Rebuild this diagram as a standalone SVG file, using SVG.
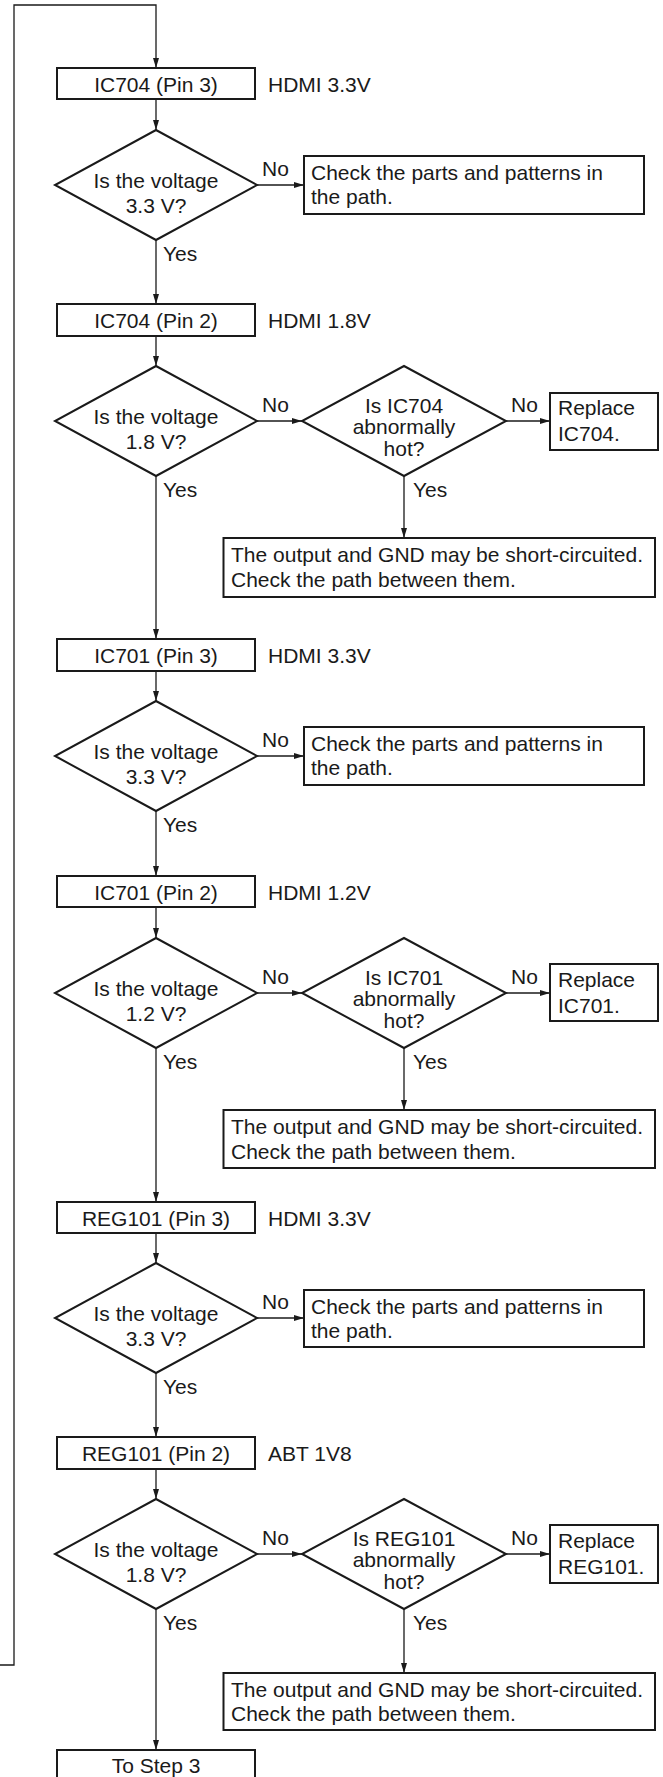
<svg xmlns="http://www.w3.org/2000/svg" width="663" height="1777" viewBox="0 0 663 1777">
  <defs>
    <marker id="arrow" markerUnits="userSpaceOnUse" markerWidth="10" markerHeight="6" refX="10" refY="3" orient="auto">
      <path d="M0,0 L10,3 L0,6 z" fill="#1a1a1a"/>
    </marker>
    <style>
      text { font-family: "Liberation Sans", Arial, Helvetica, sans-serif; font-size: 21px; fill: #1a1a1a; }
      .c { text-anchor: middle; }
      .box { fill: #fff; stroke: #1a1a1a; stroke-width: 2; }
      .dia { fill: #fff; stroke: #1a1a1a; stroke-width: 2; }
      .ln { fill: none; stroke: #1a1a1a; stroke-width: 1.3; }
      .arr { fill: none; stroke: #1a1a1a; stroke-width: 1.3; marker-end: url(#arrow); }
    </style>
  </defs>
  <rect width="663" height="1777" fill="#fff"/>

  <!-- connectors -->
  <g id="connectors">
    <polyline class="arr" points="0,1665 14,1665 14,5 156,5 156,68"/>
    <!-- IC704 pin 3 -->
    <line class="arr" x1="156" y1="99" x2="156" y2="130"/>
    <line class="arr" x1="257" y1="185" x2="304" y2="185"/>
    <line class="arr" x1="156" y1="240" x2="156" y2="304"/>
    <!-- IC704 pin 2 -->
    <line class="arr" x1="156" y1="336" x2="156" y2="366"/>
    <line class="arr" x1="257" y1="421" x2="302" y2="421"/>
    <line class="arr" x1="506" y1="421" x2="550" y2="421"/>
    <line class="arr" x1="404" y1="476" x2="404" y2="538"/>
    <line class="arr" x1="156" y1="476" x2="156" y2="639"/>
    <!-- IC701 pin 3 -->
    <line class="arr" x1="156" y1="671" x2="156" y2="701"/>
    <line class="arr" x1="257" y1="756" x2="304" y2="756"/>
    <line class="arr" x1="156" y1="811" x2="156" y2="876"/>
    <!-- IC701 pin 2 -->
    <line class="arr" x1="156" y1="907" x2="156" y2="938"/>
    <line class="arr" x1="257" y1="993" x2="302" y2="993"/>
    <line class="arr" x1="506" y1="993" x2="550" y2="993"/>
    <line class="arr" x1="404" y1="1048" x2="404" y2="1110"/>
    <line class="arr" x1="156" y1="1048" x2="156" y2="1202"/>
    <!-- REG101 pin 3 -->
    <line class="arr" x1="156" y1="1233" x2="156" y2="1263"/>
    <line class="arr" x1="257" y1="1318" x2="304" y2="1318"/>
    <line class="arr" x1="156" y1="1373" x2="156" y2="1437"/>
    <!-- REG101 pin 2 -->
    <line class="arr" x1="156" y1="1469" x2="156" y2="1499"/>
    <line class="arr" x1="257" y1="1554" x2="302" y2="1554"/>
    <line class="arr" x1="506" y1="1554" x2="550" y2="1554"/>
    <line class="arr" x1="404" y1="1609" x2="404" y2="1673"/>
    <line class="arr" x1="156" y1="1609" x2="156" y2="1750"/>
  </g>

  <!-- branch labels -->
  <g id="labels">
    <text x="262" y="176">No</text>
    <text x="163" y="261">Yes</text>
    <text x="262" y="412">No</text>
    <text x="511" y="412">No</text>
    <text x="163" y="497">Yes</text>
    <text x="413" y="497">Yes</text>
    <text x="262" y="747">No</text>
    <text x="163" y="832">Yes</text>
    <text x="262" y="984">No</text>
    <text x="511" y="984">No</text>
    <text x="163" y="1069">Yes</text>
    <text x="413" y="1069">Yes</text>
    <text x="262" y="1309">No</text>
    <text x="163" y="1394">Yes</text>
    <text x="262" y="1545">No</text>
    <text x="511" y="1545">No</text>
    <text x="163" y="1630">Yes</text>
    <text x="413" y="1630">Yes</text>
  </g>

  <!-- IC704 pin 3 stage -->
  <g id="ic704-pin3">
    <rect class="box" x="57" y="68" width="198" height="31"/>
    <text class="c" x="156" y="92">IC704 (Pin 3)</text>
    <text x="268" y="92">HDMI 3.3V</text>
  </g>
  <g id="q-ic704-3v3">
    <polygon class="dia" points="156,130 257,185 156,240 55,185"/>
    <text class="c" x="156" y="188">Is the voltage</text>
    <text class="c" x="156" y="213">3.3 V?</text>
  </g>
  <g id="check-ic704-3v3">
    <rect class="box" x="304" y="156" width="340" height="58"/>
    <text x="311" y="180">Check the parts and patterns in</text>
    <text x="311" y="204">the path.</text>
  </g>

  <!-- IC704 pin 2 stage -->
  <g id="ic704-pin2">
    <rect class="box" x="57" y="304" width="198" height="32"/>
    <text class="c" x="156" y="328">IC704 (Pin 2)</text>
    <text x="268" y="328">HDMI 1.8V</text>
  </g>
  <g id="q-ic704-1v8">
    <polygon class="dia" points="156,366 257,421 156,476 55,421"/>
    <text class="c" x="156" y="424">Is the voltage</text>
    <text class="c" x="156" y="449">1.8 V?</text>
  </g>
  <g id="q-ic704-hot">
    <polygon class="dia" points="404,366 506,421 404,476 302,421"/>
    <text class="c" x="404" y="413">Is IC704</text>
    <text class="c" x="404" y="434">abnormally</text>
    <text class="c" x="404" y="456">hot?</text>
  </g>
  <g id="replace-ic704">
    <rect class="box" x="550" y="393" width="108" height="57"/>
    <text x="558" y="415">Replace</text>
    <text x="558" y="441">IC704.</text>
  </g>
  <g id="short-ic704">
    <rect class="box" x="223.5" y="538" width="431.5" height="59"/>
    <text x="231" y="562">The output and GND may be short-circuited.</text>
    <text x="231" y="587">Check the path between them.</text>
  </g>

  <!-- IC701 pin 3 stage -->
  <g id="ic701-pin3">
    <rect class="box" x="57" y="639" width="198" height="32"/>
    <text class="c" x="156" y="663">IC701 (Pin 3)</text>
    <text x="268" y="663">HDMI 3.3V</text>
  </g>
  <g id="q-ic701-3v3">
    <polygon class="dia" points="156,701 257,756 156,811 55,756"/>
    <text class="c" x="156" y="759">Is the voltage</text>
    <text class="c" x="156" y="784">3.3 V?</text>
  </g>
  <g id="check-ic701-3v3">
    <rect class="box" x="304" y="727" width="340" height="58"/>
    <text x="311" y="751">Check the parts and patterns in</text>
    <text x="311" y="775">the path.</text>
  </g>

  <!-- IC701 pin 2 stage -->
  <g id="ic701-pin2">
    <rect class="box" x="57" y="876" width="198" height="31"/>
    <text class="c" x="156" y="900">IC701 (Pin 2)</text>
    <text x="268" y="900">HDMI 1.2V</text>
  </g>
  <g id="q-ic701-1v2">
    <polygon class="dia" points="156,938 257,993 156,1048 55,993"/>
    <text class="c" x="156" y="996">Is the voltage</text>
    <text class="c" x="156" y="1021">1.2 V?</text>
  </g>
  <g id="q-ic701-hot">
    <polygon class="dia" points="404,938 506,993 404,1048 302,993"/>
    <text class="c" x="404" y="985">Is IC701</text>
    <text class="c" x="404" y="1006">abnormally</text>
    <text class="c" x="404" y="1028">hot?</text>
  </g>
  <g id="replace-ic701">
    <rect class="box" x="550" y="964" width="108" height="57"/>
    <text x="558" y="987">Replace</text>
    <text x="558" y="1013">IC701.</text>
  </g>
  <g id="short-ic701">
    <rect class="box" x="223.5" y="1110" width="431.5" height="58"/>
    <text x="231" y="1134">The output and GND may be short-circuited.</text>
    <text x="231" y="1159">Check the path between them.</text>
  </g>

  <!-- REG101 pin 3 stage -->
  <g id="reg101-pin3">
    <rect class="box" x="57" y="1202" width="198" height="31"/>
    <text class="c" x="156" y="1226">REG101 (Pin 3)</text>
    <text x="268" y="1226">HDMI 3.3V</text>
  </g>
  <g id="q-reg101-3v3">
    <polygon class="dia" points="156,1263 257,1318 156,1373 55,1318"/>
    <text class="c" x="156" y="1321">Is the voltage</text>
    <text class="c" x="156" y="1346">3.3 V?</text>
  </g>
  <g id="check-reg101-3v3">
    <rect class="box" x="304" y="1290" width="340" height="57"/>
    <text x="311" y="1314">Check the parts and patterns in</text>
    <text x="311" y="1338">the path.</text>
  </g>

  <!-- REG101 pin 2 stage -->
  <g id="reg101-pin2">
    <rect class="box" x="57" y="1437" width="198" height="32"/>
    <text class="c" x="156" y="1461">REG101 (Pin 2)</text>
    <text x="268" y="1461">ABT 1V8</text>
  </g>
  <g id="q-reg101-1v8">
    <polygon class="dia" points="156,1499 257,1554 156,1609 55,1554"/>
    <text class="c" x="156" y="1557">Is the voltage</text>
    <text class="c" x="156" y="1582">1.8 V?</text>
  </g>
  <g id="q-reg101-hot">
    <polygon class="dia" points="404,1499 506,1554 404,1609 302,1554"/>
    <text class="c" x="404" y="1546">Is REG101</text>
    <text class="c" x="404" y="1567">abnormally</text>
    <text class="c" x="404" y="1589">hot?</text>
  </g>
  <g id="replace-reg101">
    <rect class="box" x="550" y="1525" width="108" height="58"/>
    <text x="558" y="1548">Replace</text>
    <text x="558" y="1574">REG101.</text>
  </g>
  <g id="short-reg101">
    <rect class="box" x="223.5" y="1673" width="431.5" height="57"/>
    <text x="231" y="1697">The output and GND may be short-circuited.</text>
    <text x="231" y="1721">Check the path between them.</text>
  </g>

  <!-- exit -->
  <g id="to-step3">
    <rect class="box" x="57" y="1750" width="198" height="32"/>
    <text class="c" x="156" y="1773">To Step 3</text>
  </g>
</svg>
